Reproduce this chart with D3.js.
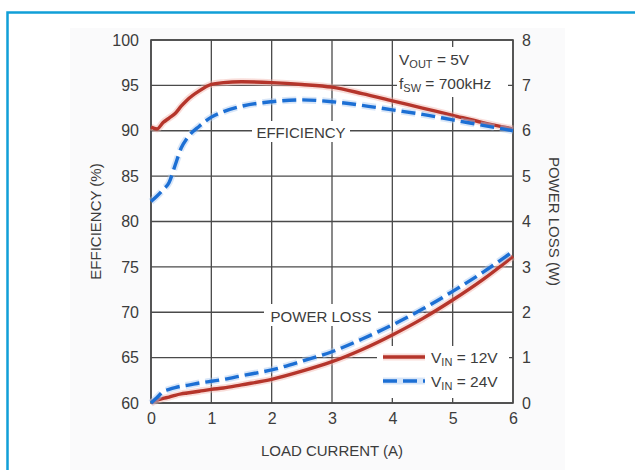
<!DOCTYPE html>
<html>
<head>
<meta charset="utf-8">
<script src="https://cdn.jsdelivr.net/npm/d3@7"></script>
<style>
  body { margin: 0; background: #fff; }
  svg text { font-family: "Liberation Sans Narrow", "Arial Narrow", "Liberation Sans", sans-serif; fill: #3c3c3c; }
</style>
</head>
<body>
<svg id="chart"></svg>
<script>
// load current (A)
const current = [0, 0.1, 0.2, 0.3, 0.4, 0.5, 0.6, 0.8, 1.0, 1.2, 1.5, 2.0, 2.5, 3.0, 3.5, 4.0, 4.5, 5.0, 5.5, 6.0]
// efficiency (%)
const eff12 = [90.4, 90.2, 90.9, 91.4, 91.9, 92.7, 93.4, 94.4, 95.1, 95.3, 95.4, 95.3, 95.1, 94.8, 94.1, 93.3, 92.5, 91.7, 90.9, 90.2]
const eff24 = [82.2, 82.8, 83.5, 84.3, 86.2, 88.1, 89.2, 90.5, 91.5, 92.1, 92.7, 93.2, 93.4, 93.2, 92.8, 92.3, 91.8, 91.2, 90.6, 90.0]
// power loss (W)
const loss12 = [0, 0.06, 0.1, 0.13, 0.17, 0.2, 0.22, 0.26, 0.3, 0.33, 0.4, 0.52, 0.7, 0.91, 1.18, 1.5, 1.86, 2.27, 2.72, 3.23]
const loss24 = [0, 0.12, 0.25, 0.3, 0.34, 0.37, 0.39, 0.44, 0.48, 0.52, 0.6, 0.73, 0.92, 1.13, 1.41, 1.72, 2.07, 2.46, 2.88, 3.34]

const xTicks = [0, 1, 2, 3, 4, 5, 6]
const effTicks = [60, 65, 70, 75, 80, 85, 90, 95, 100]
const lossTicks = [0, 1, 2, 3, 4, 5, 6, 7, 8]

const width = 635, height = 470
const plot = {left: 151, right: 513, top: 40, bottom: 403}
const red = '#b5352b', redGlow = '#f2b3aa'
const blue = '#1c6fd4', blueGlow = '#a9c8ef'
const gridColor = '#4a4a4a'

const svg = d3.select('#chart').attr('width', width).attr('height', height)

// background and frame
svg.append('rect').attr('x', 70).attr('y', 28).attr('width', 495).attr('height', 442).attr('fill', '#fafafb')
svg.append('rect').attr('x', 7.5).attr('y', 12.5).attr('width', 640).attr('height', 470)
    .attr('fill', 'none').attr('stroke', '#119fd7').attr('stroke-width', 2.5)
svg.append('rect').attr('x', plot.left).attr('y', plot.top)
    .attr('width', plot.right - plot.left).attr('height', plot.bottom - plot.top).attr('fill', '#fff')

const x = d3.scaleLinear().domain([0, 6]).range([plot.left, plot.right])
const yEff = d3.scaleLinear().domain([60, 100]).range([plot.bottom, plot.top])
const yLoss = d3.scaleLinear().domain([0, 8]).range([plot.bottom, plot.top])

// grid
const grid = svg.append('g')
grid.selectAll('.vgrid').data(xTicks).join('line')
    .attr('x1', d => x(d)).attr('x2', d => x(d))
    .attr('y1', plot.top).attr('y2', plot.bottom)
    .attr('stroke', gridColor).attr('stroke-width', 1.3)
grid.selectAll('.hgrid').data(effTicks).join('line')
    .attr('x1', plot.left).attr('x2', plot.right)
    .attr('y1', d => yEff(d)).attr('y2', d => yEff(d))
    .attr('stroke', gridColor).attr('stroke-width', 1.3)

// white boxes behind in-plot labels (cut the grid)
const boxes = [
    [397, 47, 111, 50],
    [252, 121, 98, 21],
    [264, 304, 114, 22],
    [377, 346, 132, 52]
]
svg.selectAll('.box').data(boxes).join('rect')
    .attr('x', d => d[0]).attr('y', d => d[1]).attr('width', d => d[2]).attr('height', d => d[3])
    .attr('fill', '#fff')

// plot frame
svg.append('rect').attr('x', plot.left).attr('y', plot.top)
    .attr('width', plot.right - plot.left).attr('height', plot.bottom - plot.top)
    .attr('fill', 'none').attr('stroke', gridColor).attr('stroke-width', 1.6)

// axes (labels only)
const xAxis = d3.axisBottom(x).tickValues(xTicks).tickFormat(d3.format('d')).tickSize(0).tickPadding(10)
const yAxisL = d3.axisLeft(yEff).tickValues(effTicks).tickFormat(d3.format('d')).tickSize(0).tickPadding(10)
const yAxisR = d3.axisRight(yLoss).tickValues(lossTicks).tickFormat(d3.format('d')).tickSize(0).tickPadding(9)

const axisStyle = g => {
    g.select('.domain').remove()
    g.selectAll('text').style('font-size', '16px').attr('fill', '#3c3c3c')
        .style('font-family', '"Liberation Sans Narrow", "Arial Narrow", "Liberation Sans", sans-serif')
}
svg.append('g').attr('transform', `translate(0,${plot.bottom})`).call(xAxis).call(axisStyle)
svg.append('g').attr('transform', `translate(${plot.left - 2},0)`).call(yAxisL).call(axisStyle)
svg.append('g').attr('transform', `translate(${plot.right},0)`).call(yAxisR).call(axisStyle)

// axis titles
svg.append('text').attr('x', x(3)).attr('y', 456).attr('text-anchor', 'middle')
    .style('font-size', '15px').text('LOAD CURRENT (A)')
svg.append('text').attr('transform', `translate(101,${yEff(80)}) rotate(-90)`).attr('text-anchor', 'middle')
    .style('font-size', '15px').text('EFFICIENCY (%)')
svg.append('text').attr('transform', `translate(549,${yEff(80)}) rotate(90)`).attr('text-anchor', 'middle')
    .style('font-size', '15px').text('POWER LOSS (W)')

// curves
const series = [
    {vals: eff12, y: yEff, color: red, glow: redGlow, dash: null},
    {vals: eff24, y: yEff, color: blue, glow: blueGlow, dash: '14,6'},
    {vals: loss12, y: yLoss, color: red, glow: redGlow, dash: null},
    {vals: loss24, y: yLoss, color: blue, glow: blueGlow, dash: '14,6'}
]
series.forEach(s => {
    const line = d3.line().x((d, i) => x(current[i])).y(d => s.y(d)).curve(d3.curveMonotoneX)
    svg.append('path').datum(s.vals).attr('d', line)
        .attr('fill', 'none').attr('stroke', s.glow).attr('stroke-width', 7)
        .attr('stroke-opacity', 0.45).attr('stroke-dasharray', s.dash)
    svg.append('path').datum(s.vals).attr('d', line)
        .attr('fill', 'none').attr('stroke', s.color).attr('stroke-width', 3.4)
        .attr('stroke-dasharray', s.dash)
})

// in-plot labels
svg.append('text').attr('x', 301).attr('y', 138).attr('text-anchor', 'middle')
    .style('font-size', '15px').text('EFFICIENCY')
svg.append('text').attr('x', 321).attr('y', 322).attr('text-anchor', 'middle')
    .style('font-size', '15px').text('POWER LOSS')

// annotation
const note = svg.append('g').style('font-size', '15.5px')
const t1 = note.append('text').attr('x', 399).attr('y', 65)
t1.append('tspan').text('V')
t1.append('tspan').attr('dy', 3).style('font-size', '11px').text('OUT')
t1.append('tspan').attr('dy', -3).text(' = 5V')
const t2 = note.append('text').attr('x', 399).attr('y', 89)
t2.append('tspan').text('f')
t2.append('tspan').attr('dy', 3).style('font-size', '11px').text('SW')
t2.append('tspan').attr('dy', -3).text(' = 700kHz')

// legend
const legend = [
    {label: '12V', color: red, glow: redGlow, dash: null, y: 357},
    {label: '24V', color: blue, glow: blueGlow, dash: '14,6', y: 381}
]
legend.forEach(l => {
    svg.append('line').attr('x1', 383).attr('x2', 425).attr('y1', l.y).attr('y2', l.y)
        .attr('stroke', l.glow).attr('stroke-width', 7).attr('stroke-opacity', 0.45)
    svg.append('line').attr('x1', 383).attr('x2', 425).attr('y1', l.y).attr('y2', l.y)
        .attr('stroke', l.color).attr('stroke-width', 3.4).attr('stroke-dasharray', l.dash)
    const t = svg.append('text').attr('x', 431).attr('y', l.y + 6).style('font-size', '15.5px')
    t.append('tspan').text('V')
    t.append('tspan').attr('dy', 3).style('font-size', '11px').text('IN')
    t.append('tspan').attr('dy', -3).text(' = ' + l.label)
})
</script>
</body>
</html>
